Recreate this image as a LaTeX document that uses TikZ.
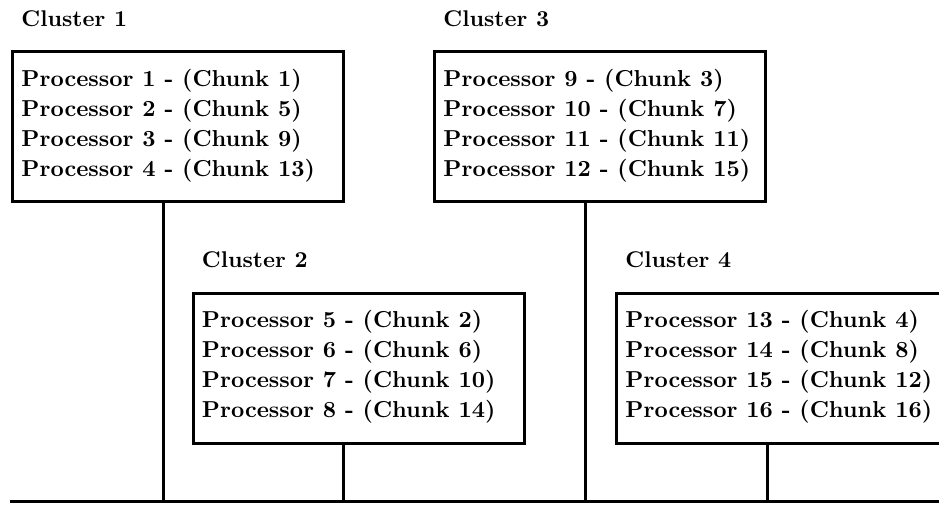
\documentclass[tikz,border=0pt]{standalone}
\usetikzlibrary{calc}
\begin{document}
\begin{tikzpicture}[x=0.44pt, y=-0.44pt,
  bline/.style={line width=1.4pt, black},
  procbox/.style={draw, bline, minimum width=331*0.44pt, minimum height=150*0.44pt, anchor=north west, inner sep=0pt},
  proctext/.style={anchor=base west, align=left, inner sep=0pt, font={\fontsize{10.15}{13.2}\selectfont\bfseries}},
  clabel/.style={anchor=base west, inner sep=0pt, font={\fontsize{10}{12}\selectfont\bfseries}}]
\useasboundingbox (0,0) rectangle (939,506);
% bus
\coordinate (busL) at (10,501.5);
\coordinate (busR) at (939,501.5);
% boxes
\node[procbox] (b1) at (11,50) {};
\node[procbox] (b3) at (433,50) {};
\node[procbox] (b2) at (191.5,291.5) {};
\node[procbox] (b4) at (615,291.5) {};
% labels
\node[clabel] (l1) at (21,26) {Cluster 1};
\node[clabel] (l3) at (443,26) {Cluster 3};
\node[clabel] (l2) at (201.5,267.5) {Cluster 2};
\node[clabel] (l4) at (625,267.5) {Cluster 4};
% texts (base anchor = baseline of last line)
\node[proctext] (t1) at (21,176) {Processor 1 - (Chunk 1)\\Processor 2 - (Chunk 5)\\Processor 3 - (Chunk 9)\\Processor 4 - (Chunk 13)};
\node[proctext] (t3) at (443,176) {Processor 9 - (Chunk 3)\\Processor 10 - (Chunk 7)\\Processor 11 - (Chunk 11)\\Processor 12 - (Chunk 15)};
\node[proctext] (t2) at (201.5,417.5) {Processor 5 - (Chunk 2)\\Processor 6 - (Chunk 6)\\Processor 7 - (Chunk 10)\\Processor 8 - (Chunk 14)};
\node[proctext] (t4) at (625,417.5) {Processor 13 - (Chunk 4)\\Processor 14 - (Chunk 8)\\Processor 15 - (Chunk 12)\\Processor 16 - (Chunk 16)};
% connectors
\draw[bline] (busL) -- (busR);
\foreach \b in {b1,b2,b3,b4}{
  \draw[bline] ($(\b.south)+(-15,0)$) coordinate (c\b) -- (c\b |- busL);
}
\end{tikzpicture}
\end{document}
